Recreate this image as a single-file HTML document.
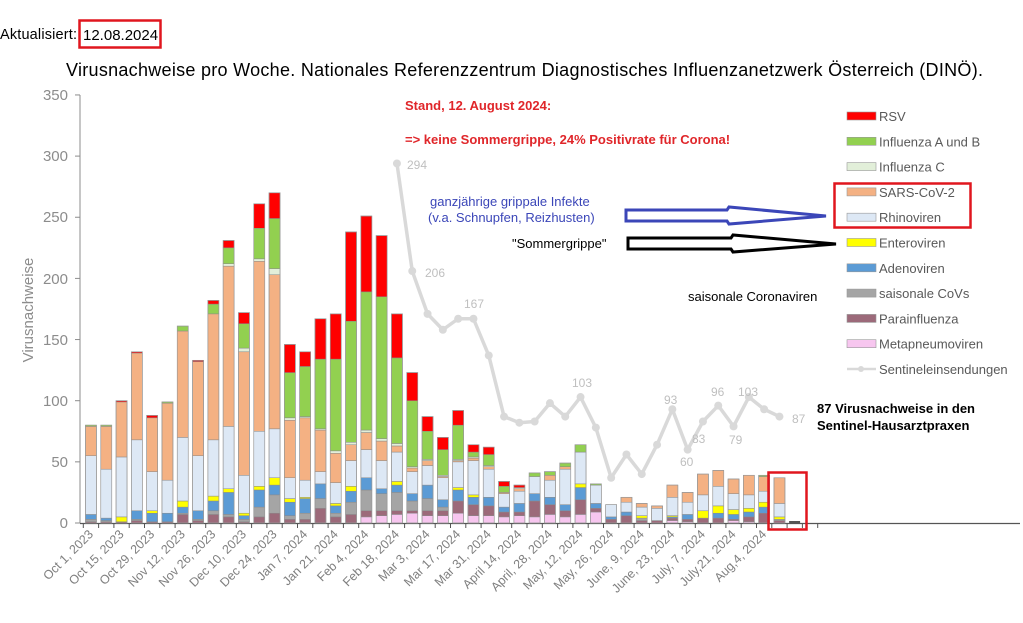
<!DOCTYPE html>
<html><head><meta charset="utf-8">
<style>
body{margin:0;background:#fff;}
svg{display:block;font-family:"Liberation Sans",sans-serif;}
</style></head>
<body>
<svg id="s" width="1023" height="623" viewBox="0 0 1023 623" xmlns="http://www.w3.org/2000/svg">
<rect width="1023" height="623" fill="#fff"/>
<text x="0" y="39" font-size="14.5" fill="#000" textLength="77">Aktualisiert:</text>
<rect x="79.5" y="20.5" width="81" height="27" fill="none" stroke="#e0161e" stroke-width="2.5"/>
<text x="83" y="40" font-size="15" fill="#000">12.08.2024</text>
<text x="66" y="76" font-size="18" fill="#000" textLength="917">Virusnachweise pro Woche. Nationales Referenzzentrum Diagnostisches Influenzanetzwerk Österreich (DINÖ).</text>
<g id="grid"></g>
<g id="bars"></g>
<g id="line"></g>
<g font-size="15" fill="#8c8c8c" text-anchor="end">
<text x="68" y="528">0</text><text x="68" y="467">50</text><text x="68" y="406">100</text><text x="68" y="345">150</text><text x="68" y="284">200</text><text x="68" y="222">250</text><text x="68" y="161">300</text><text x="68" y="100">350</text>
</g>
<text transform="translate(33,310) rotate(-90)" font-size="15" fill="#8c8c8c" text-anchor="middle">Virusnachweise</text>
<g id="xl" font-size="12.5" fill="#7f7f7f"></g>
<text x="405" y="110" font-size="13" font-weight="bold" fill="#e0262a">Stand, 12. August 2024:</text>
<text x="405" y="144" font-size="13" font-weight="bold" fill="#e0262a">=&gt; keine Sommergrippe, 24% Positivrate für Corona!</text>
<text x="430" y="206" font-size="13" fill="#3b46b8">ganzjährige grippale Infekte</text>
<text x="428" y="222" font-size="13" fill="#3b46b8">(v.a. Schnupfen, Reizhusten)</text>
<text x="512" y="248" font-size="13" fill="#000">"Sommergrippe"</text>
<text x="688" y="301" font-size="13" fill="#000">saisonale Coronaviren</text>
<polygon points="626,210 727,210 729,207 826,216 729,224 727,221 626,221" fill="#fff" stroke="#3b46b8" stroke-width="3"/>
<polygon points="628,238 731,238 733,235 836,244 733,252 731,249 628,249" fill="#fff" stroke="#000" stroke-width="3"/>
<text x="817" y="413" font-size="13" font-weight="bold" fill="#000">87 Virusnachweise in den</text>
<text x="817" y="430" font-size="13" font-weight="bold" fill="#000">Sentinel-Hausarztpraxen</text>
<g id="leg" font-size="13" fill="#595959"></g>
<rect x="834.5" y="183.5" width="136" height="44" fill="none" stroke="#e0161e" stroke-width="2.5"/>
<rect x="768.5" y="472.5" width="38" height="57" fill="none" stroke="#e0161e" stroke-width="2.5"/>
</svg>
<script>
var NS="http://www.w3.org/2000/svg";
function el(p,t,a,txt){var e=document.createElementNS(NS,t);for(var k in a)e.setAttribute(k,a[k]);if(txt!==undefined)e.textContent=txt;document.getElementById(p).appendChild(e);return e;}
var cols=["#f7c6ef","#9c6a7a","#a5a5a5","#5b9bd5","#ffff00","#dde8f5","#f4b183","#e2efd9","#92d050","#ff0000"];
var D=[[0,1,3,7,7,55,79,79,80,80],[0,1,2,4,4,44,79,79,80,80],[0,1,1,1,5,54,99,99,99,100],[0,2,3,10,10,68,139,139,139,140],[0,1,1,8,10,42,86,86,86,88],[0,1,1,8,8,35,98,98,99,99],[0,7,8,13,18,70,157,157,161,161],[0,2,3,10,10,55,132,132,132,133],[0,7,10,18,22,68,171,171,179,182],[0,5,7,25,28,79,210,212,225,231],[0,1,3,6,8,39,140,143,163,172],[0,5,13,27,30,75,214,216,241,261],[0,8,23,31,37,77,203,208,249,270],[0,3,6,17,20,37,84,86,123,146],[0,3,8,20,21,35,86,87,128,140],[0,12,20,32,32,42,76,77,134,167],[0,5,8,14,16,33,57,59,134,171],[0,7,17,26,30,51,64,66,165,238],[5,10,27,37,37,60,74,76,189,251],[6,10,24,28,28,51,67,69,185,235],[7,10,25,31,34,58,63,65,135,171],[8,10,18,24,24,42,45,46,100,123],[6,10,20,31,31,47,51,52,75,87],[6,10,13,19,19,37,38,39,60,70],[8,18,18,27,29,50,51,52,80,92],[6,15,15,21,23,51,53,54,58,64],[6,14,14,21,21,44,46,47,56,62],[5,9,9,13,13,24,25,25,30,34],[6,9,9,16,16,26,28,29,29,31],[5,18,18,24,24,38,38,38,41,41],[7,15,15,21,21,35,39,39,42,42],[5,10,10,15,15,44,46,46,49,49],[7,19,19,29,32,58,58,58,64,64],[9,12,12,16,16,31,31,31,32,32],[0,3,3,5,5,15,15,15,15,15],[0,6,6,9,9,17,21,21,21,21],[0,2,4,4,6,13,16,16,16,16],[0,2,2,2,2,12,14,14,14,14],[2,4,4,5,6,21,31,31,31,31],[1,3,3,7,7,17,25,25,25,25],[0,4,4,4,10,23,40,40,40,40],[0,4,4,8,14,30,43,43,43,43],[2,3,3,7,11,24,36,36,36,36],[1,5,5,9,12,23,39,39,39,39],[0,8,8,13,17,26,38,38,39,39],[0,2,3,3,5,16,37,37,37,37]];
var Y0=523,K=1.223,X0=83.3,W=15.3,BW=11;
function Y(v){return Y0-v*K;}
el("grid","line",{x1:80,y1:95,x2:80,y2:523,stroke:"#8c8c8c","stroke-width":1});
[0,50,100,150,200,250,300,350].forEach(function(v){el("grid","line",{x1:75,x2:80,y1:Y(v),y2:Y(v),stroke:"#8c8c8c"});});
el("grid","line",{x1:80,y1:523.5,x2:1020,y2:523.5,stroke:"#555","stroke-width":1.2});
for(var i=0;i<=48;i++){var x=X0+i*W;el("grid","line",{x1:x,x2:x,y1:523,y2:528,stroke:"#555"});}
D.forEach(function(b,i){var cx=X0+W*i+W/2,prev=0;
 for(var s=0;s<10;s++){var h=b[s]-prev;if(h>0){el("bars","rect",{x:cx-BW/2,y:Y(b[s]),width:BW,height:h*K,fill:cols[s],stroke:"#8a8a8a","stroke-width":0.5});}prev=b[s];}
 el("bars","rect",{x:cx-BW/2,y:Y(b[9]),width:BW,height:b[9]*K,fill:"none",stroke:"#999","stroke-width":0.7});
});
el("bars","rect",{x:X0+46*W+2,y:521,width:BW,height:2,fill:"#555"});
var L=[[20,294],[21,206],[22,171],[23,158],[24,167],[25,167],[26,137],[27,87],[28,82],[29,83],[30,98],[31,87],[32,103],[33,78],[34,37],[35,56],[36,40],[37,64],[38,93],[39,60],[40,83],[41,96],[42,79],[43,103],[44,93],[45,87]];
var pts=L.map(function(p){return (X0+W*p[0]+W/2)+","+Y(p[1]);}).join(" ");
el("line","polyline",{points:pts,fill:"none",stroke:"#d9d9d9","stroke-width":3.5,"stroke-linejoin":"round"});
L.forEach(function(p){el("line","circle",{cx:X0+W*p[0]+W/2,cy:Y(p[1]),r:4,fill:"#d9d9d9"});});
[["294",407,169],["206",425,277],["167",464,308],["103",572,387],["93",664,404],["60",680,466],["83",692,443],["96",711,396],["79",729,444],["103",738,396],["87",792,423]].forEach(function(t){el("line","text",{x:t[1],y:t[2],"font-size":12,fill:"#bfbfbf"},t[0]);});
var labs=["Oct 1, 2023","Oct 15, 2023","Oct 29, 2023","Nov 12, 2023","Nov 26, 2023","Dec 10, 2023","Dec 24, 2023","Jan 7, 2024","Jan 21, 2024","Feb 4, 2024","Feb 18, 2024","Mar 3, 2024","Mar 17, 2024","Mar 31, 2024","April 14, 2024","April, 28, 2024","May, 12, 2024","May, 26, 2024","June, 9, 2024","June, 23, 2024","July, 7, 2024","July,21, 2024","Aug,4, 2024"];
labs.forEach(function(t,j){var x=X0+W*(2*j)+W/2+3;el("xl","text",{x:0,y:0,transform:"translate("+x+",535) rotate(-45)","text-anchor":"end"},t);});
var lg=[["RSV","#ff0000"],["Influenza A und B","#92d050"],["Influenza C","#e2efd9"],["SARS-CoV-2","#f4b183"],["Rhinoviren","#dde8f5"],["Enteroviren","#ffff00"],["Adenoviren","#5b9bd5"],["saisonale CoVs","#a5a5a5"],["Parainfluenza","#9c6a7a"],["Metapneumoviren","#f7c6ef"]];
lg.forEach(function(l,j){var y=116+j*25.3;el("leg","rect",{x:847,y:y-4,width:29,height:8,fill:l[1],stroke:"#999","stroke-width":0.6});el("leg","text",{x:879,y:y+5},l[0]);});
el("leg","line",{x1:847,x2:876,y1:369,y2:369,stroke:"#d9d9d9","stroke-width":2.5});
el("leg","circle",{cx:861,cy:369,r:3,fill:"#d9d9d9"});
el("leg","text",{x:879,y:374},"Sentineleinsendungen");
</script>
</body></html>
